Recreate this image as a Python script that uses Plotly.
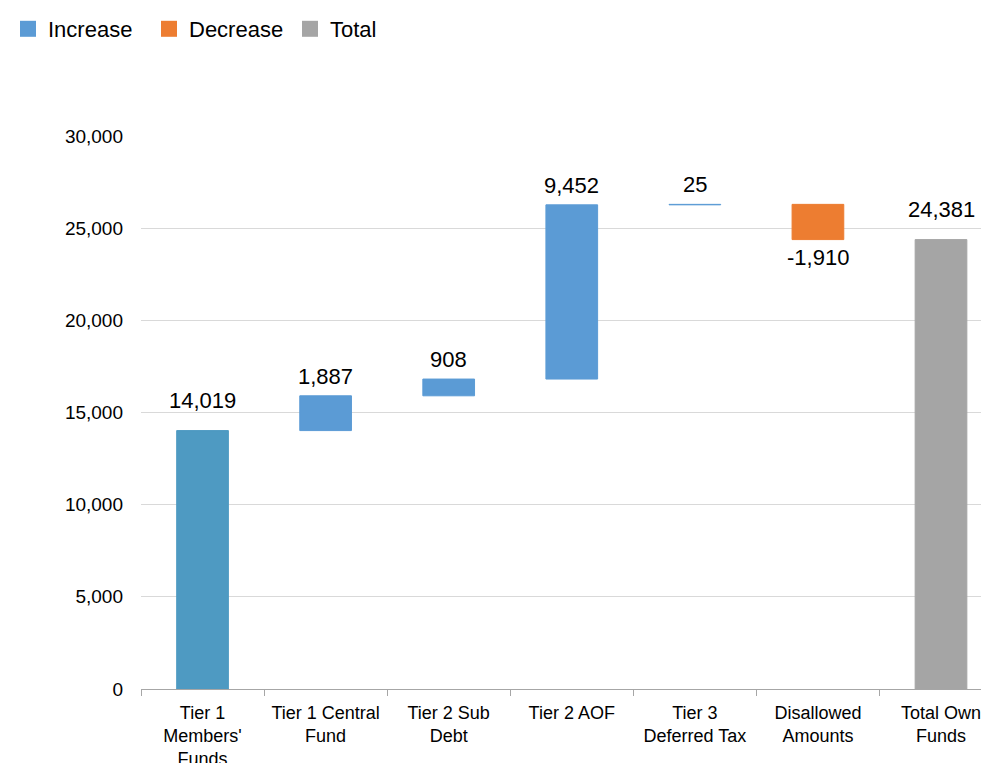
import plotly.graph_objects as go

categories = ["Tier 1<br>Members'<br>Funds", "Tier 1 Central<br>Fund", "Tier 2 Sub<br>Debt",
              "Tier 2 AOF", "Tier 3<br>Deferred Tax", "Disallowed<br>Amounts", "Total Own<br>Funds"]
values = [14019, 1887, 908, 9452, 25, -1910, 24381]
kinds = ["increase", "increase", "increase", "increase", "increase", "decrease", "total"]
y_ticks = [0, 5000, 10000, 15000, 20000, 25000, 30000]

first_color = "#4E9AC2"
inc_color = "#5B9BD5"
dec_color = "#ED7D31"
tot_color = "#A5A5A5"

# compute bases from running sum
bases = []
running = 0
for v, k in zip(values, kinds):
    if k == "total":
        bases.append(0)
        running = v
    else:
        bases.append(running)
        running += v

def fmt(v):
    return f"{v:,}"

font = "Liberation Sans, Arial, sans-serif"
fig = go.Figure()

for name, kind, color in [("Increase", "increase", inc_color), ("Decrease", "decrease", dec_color), ("Total", "total", tot_color)]:
    xs, ys, bs, cols = [], [], [], []
    for i, (c, v, k, b) in enumerate(zip(categories, values, kinds, bases)):
        if k != kind:
            continue
        xs.append(c)
        ys.append(v)
        bs.append(b)
        cols.append(first_color if i == 0 else color)
    fig.add_trace(go.Bar(
        x=xs, y=ys, base=bs, name=name,
        marker=dict(color=cols, line=dict(color=cols, width=1)),
        width=0.42, showlegend=False,
    ))
    # legend entry
    fig.add_trace(go.Scatter(
        x=[None], y=[None], mode="markers", name=name,
        marker=dict(symbol="square", size=22, color=color), showlegend=True,
    ))

# value labels
for i, (c, v, k, b) in enumerate(zip(categories, values, kinds, bases)):
    end = b + v
    big = (i == 0 or k == "total")
    if v >= 0:
        fig.add_annotation(x=c, y=end, text=fmt(v), showarrow=False, yanchor="bottom",
                           yshift=16 if big else 5,
                           font=dict(size=22, family=font, color="#000000"))
    else:
        fig.add_annotation(x=c, y=end, text=fmt(v), showarrow=False, yanchor="top",
                           yshift=-3, font=dict(size=22, family=font, color="#000000"))

fig.update_layout(
    width=981, height=755,
    margin=dict(l=133, r=0, t=128, b=74, autoexpand=False),
    plot_bgcolor="white", paper_bgcolor="white",
    barmode="overlay",
    showlegend=True,
    legend=dict(orientation="h", x=0, y=1, xref="container", yref="container",
                xanchor="left", yanchor="top", font=dict(size=22, family=font, color="#000000"),
                itemsizing="trace", tracegroupgap=0, itemwidth=30,
                entrywidth=96, entrywidthmode="pixels"),
    font=dict(family=font, color="#000000"),
    xaxis=dict(type="category", categoryorder="array", categoryarray=categories,
               range=[-0.5, 6.39], showline=True, linecolor="#A6A6A6", linewidth=1,
               ticks="outside", tickson="boundaries", tickcolor="#A6A6A6", ticklen=6,
               ticklabelstandoff=7,
               tickfont=dict(size=18, family=font, color="#000000"), showgrid=False),
    yaxis=dict(range=[0, 30000], tickvals=y_ticks, ticktext=[fmt(t) for t in y_ticks],
               showgrid=True, gridcolor="#D9D9D9", gridwidth=1, zeroline=False,
               showline=False, ticks="", ticklabelstandoff=17,
               tickfont=dict(size=19, family=font, color="#000000")),
)

fig.write_html("out.html")
